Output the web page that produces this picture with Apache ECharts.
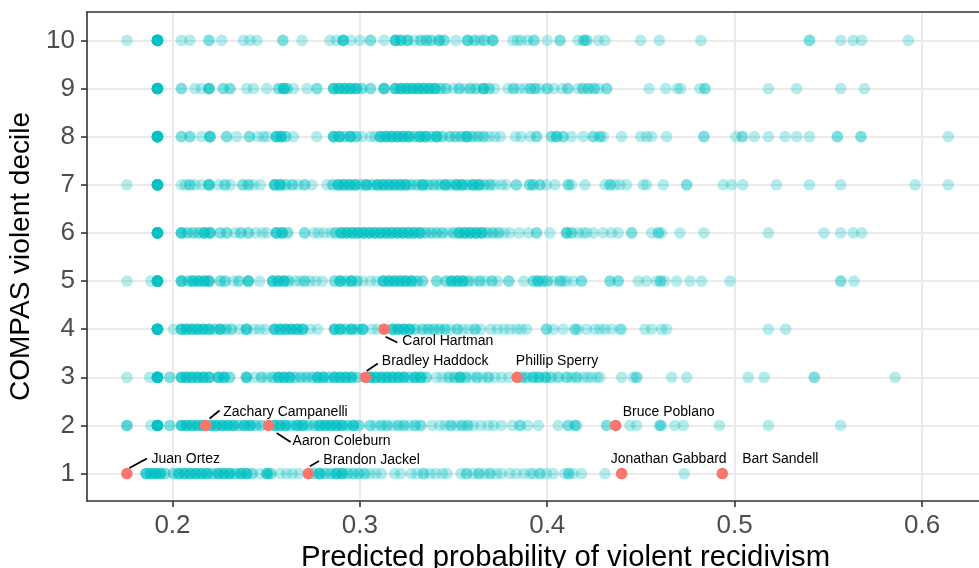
<!DOCTYPE html>
<html><head><meta charset="utf-8">
<script src="https://cdn.jsdelivr.net/npm/echarts@6/dist/echarts.min.js"></script>
<style>html,body{margin:0;padding:0;background:#fff}#c{width:979px;height:568px}</style>
</head><body><div id="c"></div>
<script>
// ---------- DATA ----------
const deciles = [1, 2, 3, 4, 5, 6, 7, 8, 9, 10];
// each entry: [predicted probability, number of people at that value]
const decile1 = [[0.186,4],[0.1885,4],[0.191,4],[0.1935,4],[0.196,2],[0.2005,2],[0.2035,4],[0.2065,4],[0.2095,4],[0.2125,4],[0.2155,4],[0.2185,4],[0.2215,2],[0.2245,4],[0.2275,4],[0.2305,4],[0.2335,2],[0.2365,4],[0.2395,4],[0.2425,2],[0.2468,1],[0.2505,4],[0.2525,2],[0.2575,1],[0.261,1],[0.264,1],[0.2675,1],[0.2755,2],[0.2785,4],[0.2815,2],[0.2845,2],[0.2875,4],[0.2905,4],[0.2935,2],[0.2965,2],[0.2995,2],[0.3025,2],[0.3055,1],[0.3085,1],[0.3115,1],[0.3185,1],[0.3218,1],[0.3275,1],[0.3305,1],[0.334,2],[0.3375,1],[0.3405,1],[0.344,1],[0.3465,1],[0.354,1],[0.357,2],[0.3605,1],[0.3635,2],[0.3665,1],[0.3695,2],[0.373,1],[0.3755,1],[0.38,1],[0.3835,1],[0.3875,1],[0.391,1],[0.3925,1],[0.3961,2],[0.3996,1],[0.4032,1],[0.4094,1],[0.4115,2],[0.4139,1],[0.4183,1],[0.4308,1],[0.4731,1]];
const decile2 = [[0.1757,3],[0.1885,1],[0.192,10],[0.1985,2],[0.2048,4],[0.2075,4],[0.2105,4],[0.2135,4],[0.2165,4],[0.2205,4],[0.2235,4],[0.2265,4],[0.2295,4],[0.2325,4],[0.2355,2],[0.2385,4],[0.2415,4],[0.2445,2],[0.2475,2],[0.2545,4],[0.2575,4],[0.2605,4],[0.2635,2],[0.2665,4],[0.2695,4],[0.2725,2],[0.2755,2],[0.2785,4],[0.2815,4],[0.2845,4],[0.2875,4],[0.2905,4],[0.2935,2],[0.2965,4],[0.2995,2],[0.3055,2],[0.3085,1],[0.3115,2],[0.3145,2],[0.3175,1],[0.3205,2],[0.3235,2],[0.3265,1],[0.3295,2],[0.3325,2],[0.3385,1],[0.3425,1],[0.3455,1],[0.3485,2],[0.3515,1],[0.3545,2],[0.3575,2],[0.3605,1],[0.3645,1],[0.3685,1],[0.3715,1],[0.3755,1],[0.3815,1],[0.3855,2],[0.3895,1],[0.3952,1],[0.4059,1],[0.4112,2],[0.4148,2],[0.4157,1],[0.4317,2],[0.4441,1],[0.4477,1],[0.4601,2],[0.461,1],[0.4681,1],[0.4726,1],[0.4918,1],[0.518,1],[0.5566,1]];
const decile3 = [[0.1757,1],[0.1878,1],[0.192,10],[0.1985,2],[0.2048,4],[0.2075,4],[0.2105,4],[0.2135,4],[0.2165,4],[0.2195,4],[0.2245,4],[0.2275,4],[0.2305,2],[0.2395,4],[0.244,1],[0.2475,2],[0.2505,1],[0.2535,2],[0.2565,4],[0.2595,4],[0.2625,4],[0.2655,2],[0.2685,2],[0.2715,2],[0.2745,2],[0.2775,4],[0.2805,4],[0.2835,2],[0.2865,4],[0.2895,4],[0.2925,4],[0.2955,4],[0.2985,2],[0.3055,4],[0.3085,4],[0.3115,4],[0.3145,4],[0.3175,4],[0.3205,4],[0.3235,4],[0.3265,2],[0.3295,4],[0.3325,4],[0.3355,2],[0.341,1],[0.344,1],[0.3475,2],[0.3505,2],[0.3535,4],[0.3565,2],[0.3595,1],[0.3625,2],[0.3655,1],[0.3685,2],[0.372,1],[0.3755,1],[0.3795,1],[0.3865,2],[0.389,2],[0.3925,3],[0.3955,3],[0.399,3],[0.402,2],[0.4059,2],[0.4103,2],[0.413,1],[0.4157,2],[0.4192,1],[0.4215,1],[0.4237,1],[0.4265,1],[0.4281,1],[0.4397,1],[0.4459,1],[0.4477,2],[0.4664,1],[0.4744,1],[0.5073,1],[0.5158,1],[0.5425,2],[0.5856,1]];
const decile4 = [[0.192,10],[0.2005,1],[0.2048,4],[0.2075,4],[0.2105,4],[0.2135,4],[0.2165,4],[0.2195,4],[0.2225,2],[0.2255,4],[0.2285,2],[0.2315,2],[0.236,1],[0.2395,4],[0.2435,1],[0.2465,1],[0.2495,1],[0.2545,4],[0.2575,4],[0.2605,4],[0.2635,4],[0.2665,4],[0.2695,4],[0.2735,1],[0.2775,1],[0.2865,4],[0.2895,4],[0.2925,2],[0.2955,4],[0.2985,2],[0.3015,4],[0.3065,1],[0.3095,1],[0.3175,4],[0.3205,4],[0.3235,4],[0.3265,4],[0.3295,2],[0.3335,2],[0.3365,2],[0.3395,2],[0.3425,2],[0.3455,2],[0.3485,1],[0.352,2],[0.355,1],[0.358,1],[0.3615,2],[0.3645,1],[0.37,1],[0.3735,1],[0.377,1],[0.38,1],[0.3835,1],[0.386,1],[0.389,1],[0.3996,2],[0.4032,1],[0.4085,1],[0.4148,2],[0.4165,1],[0.421,1],[0.4254,1],[0.4281,1],[0.4308,1],[0.4343,1],[0.4388,1],[0.4397,1],[0.4521,1],[0.4557,1],[0.461,1],[0.4637,1],[0.518,1],[0.5272,1]];
const decile5 = [[0.1757,1],[0.1885,1],[0.192,10],[0.2048,4],[0.2085,2],[0.211,4],[0.214,4],[0.217,4],[0.2195,4],[0.2255,2],[0.228,2],[0.2325,1],[0.2355,2],[0.2405,4],[0.2465,1],[0.2535,4],[0.2565,4],[0.2595,4],[0.262,2],[0.2655,1],[0.268,1],[0.2705,2],[0.2735,1],[0.2765,1],[0.28,1],[0.2865,2],[0.2895,4],[0.2925,2],[0.2955,4],[0.2985,2],[0.3015,1],[0.3057,1],[0.309,1],[0.3125,4],[0.3155,4],[0.3185,4],[0.3215,4],[0.3245,4],[0.3275,4],[0.3305,2],[0.3335,2],[0.341,2],[0.346,2],[0.349,4],[0.352,4],[0.355,4],[0.358,2],[0.361,1],[0.364,2],[0.367,1],[0.3705,2],[0.3735,1],[0.3795,2],[0.3875,1],[0.3925,2],[0.395,3],[0.3975,2],[0.4,2],[0.4032,1],[0.4068,2],[0.4085,1],[0.4103,1],[0.4139,1],[0.4183,2],[0.4335,2],[0.4379,2],[0.4486,1],[0.453,1],[0.4584,1],[0.4605,2],[0.4628,1],[0.469,1],[0.4762,1],[0.4824,1],[0.4975,1],[0.5566,2],[0.5637,1]];
const decile6 = [[0.192,10],[0.2048,4],[0.208,2],[0.211,2],[0.214,2],[0.217,4],[0.22,4],[0.2255,2],[0.229,2],[0.2335,1],[0.2365,2],[0.2405,2],[0.2445,1],[0.248,1],[0.2505,1],[0.2555,4],[0.2585,4],[0.2615,2],[0.2705,2],[0.2755,1],[0.278,1],[0.281,1],[0.2845,1],[0.287,2],[0.29,4],[0.293,4],[0.296,4],[0.299,4],[0.302,4],[0.305,4],[0.308,4],[0.311,4],[0.314,4],[0.317,4],[0.32,4],[0.323,4],[0.326,4],[0.329,4],[0.332,4],[0.335,2],[0.338,2],[0.341,2],[0.344,2],[0.347,1],[0.35,2],[0.353,4],[0.356,4],[0.359,4],[0.362,4],[0.365,4],[0.368,2],[0.371,2],[0.374,2],[0.377,1],[0.38,1],[0.385,1],[0.39,1],[0.3943,2],[0.4014,1],[0.4103,3],[0.413,2],[0.4165,1],[0.4192,1],[0.421,1],[0.4246,1],[0.4299,1],[0.4343,1],[0.4379,1],[0.445,2],[0.4557,1],[0.4593,2],[0.461,1],[0.4708,1],[0.4836,1],[0.518,1],[0.5477,1],[0.5566,1],[0.5633,1],[0.5678,1]];
const decile7 = [[0.1757,1],[0.192,10],[0.2048,1],[0.207,1],[0.2093,2],[0.212,1],[0.2155,1],[0.2195,4],[0.2245,1],[0.228,2],[0.231,1],[0.2375,2],[0.2405,2],[0.2432,1],[0.2468,1],[0.2545,4],[0.2575,4],[0.2605,2],[0.264,2],[0.267,1],[0.2705,2],[0.2745,1],[0.2825,1],[0.2855,2],[0.2885,4],[0.2915,4],[0.2945,4],[0.2975,4],[0.3005,2],[0.3035,4],[0.3065,2],[0.3095,4],[0.3125,4],[0.3155,4],[0.3185,4],[0.3215,4],[0.3245,4],[0.3275,2],[0.3305,2],[0.3335,4],[0.3365,2],[0.3395,2],[0.3425,2],[0.3455,4],[0.3485,2],[0.3515,4],[0.3545,4],[0.3575,2],[0.3605,4],[0.3635,4],[0.3665,2],[0.3695,2],[0.372,1],[0.3755,1],[0.378,1],[0.3835,2],[0.3905,2],[0.3925,2],[0.3961,2],[0.3996,1],[0.4041,1],[0.4112,2],[0.413,1],[0.4201,1],[0.4308,1],[0.4335,2],[0.4361,1],[0.4388,1],[0.4423,1],[0.4512,1],[0.453,1],[0.4619,1],[0.4744,2],[0.494,1],[0.4984,1],[0.5043,1],[0.5224,1],[0.5399,1],[0.5566,1],[0.5963,1],[0.614,1]];
const decile8 = [[0.192,10],[0.2048,2],[0.2093,2],[0.2155,1],[0.22,4],[0.2289,2],[0.2343,1],[0.241,2],[0.2455,1],[0.2485,1],[0.2505,1],[0.2555,4],[0.258,4],[0.2605,2],[0.2646,1],[0.277,1],[0.286,4],[0.289,4],[0.292,2],[0.295,4],[0.298,2],[0.301,1],[0.3057,1],[0.308,1],[0.311,4],[0.314,4],[0.317,4],[0.32,4],[0.323,4],[0.326,4],[0.329,2],[0.332,4],[0.335,4],[0.338,2],[0.341,4],[0.344,2],[0.348,2],[0.351,2],[0.354,2],[0.357,4],[0.36,2],[0.363,2],[0.366,2],[0.369,1],[0.372,1],[0.375,1],[0.383,1],[0.386,1],[0.391,1],[0.3943,2],[0.4023,2],[0.405,3],[0.4085,2],[0.413,1],[0.4192,1],[0.4246,2],[0.4281,2],[0.4299,1],[0.4397,1],[0.4498,1],[0.453,1],[0.4557,1],[0.4637,1],[0.4836,2],[0.5007,1],[0.5041,2],[0.5105,1],[0.518,1],[0.5269,1],[0.5331,1],[0.5399,1],[0.5548,2],[0.5674,2],[0.614,1]];
const decile9 = [[0.192,10],[0.2048,2],[0.212,1],[0.2155,1],[0.2195,4],[0.2271,2],[0.2307,2],[0.2396,1],[0.2432,1],[0.2504,1],[0.2566,2],[0.2593,4],[0.2611,2],[0.2646,1],[0.2718,1],[0.2771,2],[0.286,4],[0.289,4],[0.292,4],[0.295,4],[0.298,4],[0.301,2],[0.3057,2],[0.3129,4],[0.319,4],[0.322,4],[0.325,4],[0.328,4],[0.331,4],[0.334,4],[0.337,4],[0.34,4],[0.343,2],[0.346,2],[0.35,1],[0.353,2],[0.356,1],[0.359,2],[0.362,2],[0.366,4],[0.369,2],[0.372,1],[0.379,1],[0.382,2],[0.385,1],[0.388,1],[0.391,2],[0.3935,2],[0.396,1],[0.4,2],[0.4035,1],[0.408,1],[0.411,2],[0.4165,1],[0.419,2],[0.422,2],[0.425,2],[0.4275,1],[0.4317,2],[0.4543,1],[0.4632,1],[0.4694,1],[0.4712,1],[0.4815,1],[0.4842,2],[0.518,1],[0.5331,1],[0.5566,1],[0.5692,1]];
const decile10 = [[0.1757,1],[0.192,10],[0.2048,1],[0.2093,1],[0.2195,2],[0.2263,1],[0.2379,1],[0.2414,1],[0.245,1],[0.2589,2],[0.2691,1],[0.284,1],[0.2875,1],[0.2911,4],[0.295,1],[0.3,1],[0.3057,2],[0.3129,1],[0.319,4],[0.3218,3],[0.3254,3],[0.329,1],[0.3325,2],[0.3355,2],[0.3379,2],[0.3423,3],[0.345,2],[0.3513,1],[0.3575,3],[0.3611,2],[0.364,1],[0.3664,2],[0.3709,3],[0.3816,1],[0.384,1],[0.3861,1],[0.3895,1],[0.3929,2],[0.4,1],[0.4068,2],[0.4165,1],[0.4195,2],[0.421,2],[0.4272,1],[0.4308,1],[0.4498,1],[0.4598,1],[0.482,1],[0.5399,2],[0.5566,1],[0.5633,1],[0.5678,1],[0.5927,1]];

const highlightNames = ['Juan Ortez','Zachary Campanelli','Aaron Coleburn','Brandon Jackel','Carol Hartman','Bradley Haddock','Phillip Sperry','Bruce Poblano','Jonathan Gabbard','Bart Sandell'];
const highlightX = [0.1757, 0.2177, 0.2513, 0.2725, 0.3129, 0.303, 0.3839, 0.4365, 0.4397, 0.4934];
const highlightY = [1, 2, 2, 1, 4, 3, 3, 2, 1, 1];

const xTickValues = [0.2, 0.3, 0.4, 0.5, 0.6];
const yTickValues = [1, 2, 3, 4, 5, 6, 7, 8, 9, 10];
const xTitle = 'Predicted probability of violent recidivism';
const yTitle = 'COMPAS violent decile';

// ---------- LAYOUT / STYLE (pixel offsets of repelled labels from their point) ----------
// [textDx, textDy, textAlign, segment (x1,y1,x2,y2) or null]
const labelPlacement = [
  [24.6, -14.5, 'left', [2.5, -5.5, 20, -15]],
  [17.6, -13.2, 'left', [4, -7, 14, -15]],
  [24, 16, 'left', [8, 7.5, 22, 16.5]],
  [15, -13.6, 'left', [1.7, -7.3, 10.7, -12.6]],
  [18.3, 12.3, 'left', [1.6, 7.6, 13.3, 13.3]],
  [16.4, -16.3, 'left', [1.2, -6.3, 12.3, -13.8]],
  [40, -16.3, 'center', null],
  [53, -13, 'center', null],
  [47, -14.6, 'center', null],
  [58, -14.6, 'center', null]
];

const FONT = '"Liberation Sans", Arial, Helvetica, sans-serif';
const TEAL = '#00BFC4';
const RED = '#F8766D';

// ---------- BUILD ----------
const rows = [decile1, decile2, decile3, decile4, decile5, decile6, decile7, decile8, decile9, decile10];
const tealData = [];
rows.forEach((row, i) => row.forEach(([x, n]) => { for (let k = 0; k < n; k++) tealData.push([x, deciles[i]]); }));
const redData = highlightX.map((x, i) => [x, highlightY[i], i]);

const X_MIN = 0.1544, X_MAX = 0.6304, Y_MIN = 0.43, Y_MAX = 10.59;

const chart = echarts.init(document.getElementById('c'), null, {renderer: 'canvas'});
chart.setOption({
  animation: false,
  backgroundColor: '#fff',
  textStyle: {fontFamily: FONT},
  grid: {left: 87, right: 0, top: 12, bottom: 67, containLabel: false, outerBoundsMode: 'none'},
  xAxis: [{
    type: 'value', min: X_MIN, max: X_MAX, interval: 0.05,
    axisLine: {show: true, onZero: false, lineStyle: {color: '#333', width: 1.6}},
    axisTick: {show: true, customValues: xTickValues, length: 6, lineStyle: {color: '#333', width: 1.6}},
    axisLabel: {customValues: xTickValues, formatter: v => v.toFixed(1), fontSize: 26, color: '#4d4d4d', margin: 12, fontFamily: FONT},
    splitLine: {show: true, lineStyle: {color: '#ebebeb', width: 2}},
    name: xTitle, nameLocation: 'middle', nameGap: 39.5,
    nameTextStyle: {fontSize: 29.3, color: '#000', fontFamily: FONT, padding: [0, 0, 0, 65]}
  }, {
    type: 'value', position: 'top', min: X_MIN, max: X_MAX,
    axisLine: {show: true, onZero: false, lineStyle: {color: '#333', width: 1.6}},
    axisTick: {show: false}, axisLabel: {show: false}, splitLine: {show: false}
  }],
  yAxis: {
    type: 'value', min: Y_MIN, max: Y_MAX, interval: 1,
    axisLine: {show: true, onZero: false, lineStyle: {color: '#333', width: 1.6}},
    axisTick: {show: true, customValues: yTickValues, length: 6, lineStyle: {color: '#333', width: 1.6}},
    axisLabel: {customValues: yTickValues, fontSize: 26, color: '#4d4d4d', margin: 12, fontFamily: FONT},
    splitLine: {show: true, lineStyle: {color: '#ebebeb', width: 2}},
    name: yTitle, nameLocation: 'middle', nameGap: 47, nameRotate: 90,
    nameTextStyle: {fontSize: 28, color: '#000', fontFamily: FONT}
  },
  series: [{
    type: 'scatter', data: tealData, symbolSize: 11.6, progressive: 0,
    itemStyle: {color: TEAL, opacity: 0.3}, emphasis: {disabled: true}, silent: true
  }, {
    type: 'scatter', data: redData, symbolSize: 11.6,
    itemStyle: {color: RED, opacity: 1}, emphasis: {disabled: true}, silent: true, z: 3
  }, {
    type: 'custom', data: redData, z: 4, silent: true,
    renderItem: (params, api) => {
      const i = api.value(2);
      const p = api.coord([api.value(0), api.value(1)]);
      const [dx, dy, align, seg] = labelPlacement[i];
      const children = [];
      if (seg) children.push({type: 'line', shape: {x1: p[0] + seg[0], y1: p[1] + seg[1], x2: p[0] + seg[2], y2: p[1] + seg[3]}, style: {stroke: '#000', lineWidth: 1.8}});
      children.push({type: 'text', style: {text: highlightNames[i], x: p[0] + dx, y: p[1] + dy, align: align, verticalAlign: 'middle', font: '14px ' + FONT, fill: '#000'}});
      return {type: 'group', children};
    }
  }]
});
</script></body></html>
